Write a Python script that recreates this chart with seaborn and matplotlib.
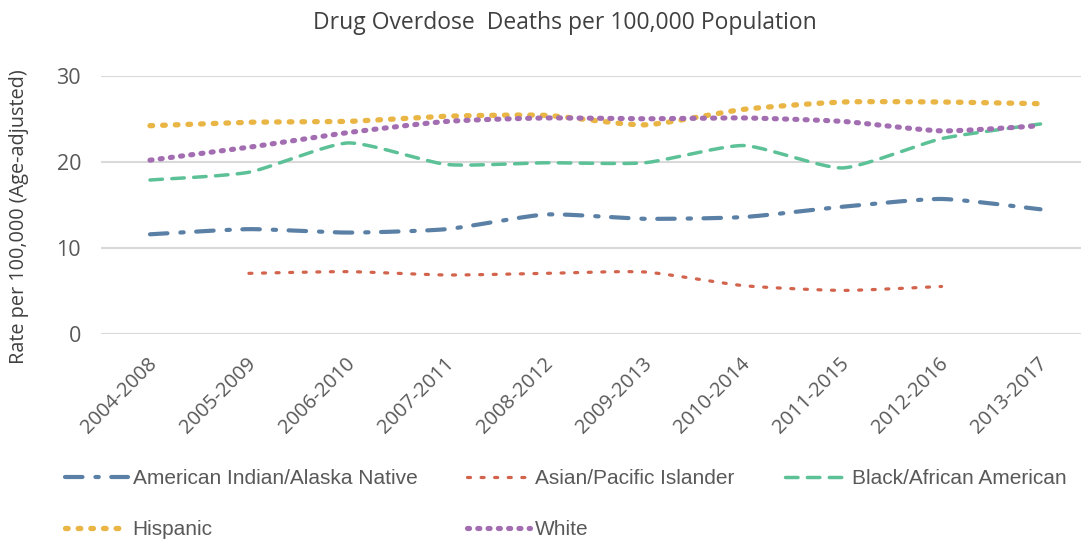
import numpy as np
import pandas as pd
import matplotlib
matplotlib.use("Agg")
import matplotlib.pyplot as plt
import matplotlib.transforms as mtransforms
import seaborn as sns

periods = ["2004-2008", "2005-2009", "2006-2010", "2007-2011", "2008-2012",
           "2009-2013", "2010-2014", "2011-2015", "2012-2016", "2013-2017"]
aian = [11.6, 12.2, 11.8, 12.2, 13.9, 13.4, 13.6, 14.8, 15.7, 14.5]
api = [np.nan, 7.07, 7.27, 6.88, 7.07, 7.23, 5.64, 5.09, 5.55, np.nan]
black = [17.9, 18.8, 22.2, 19.7, 19.9, 19.9, 21.9, 19.3, 22.7, 24.4]
hispanic = [24.2, 24.6, 24.7, 25.3, 25.4, 24.3, 26.1, 26.95, 26.95, 26.75]
white = [20.2, 21.7, 23.4, 24.7, 25.1, 25.0, 25.1, 24.7, 23.6, 24.2]

series_names = ["American Indian/Alaska Native", "Asian/Pacific Islander",
                "Black/African American", "Hispanic", "White"]
series_values = [aian, api, black, hispanic, white]
colors = ["#5b80a6", "#d2634c", "#5dc197", "#e9b545", "#a36eb1"]
widths = [3.0, 2.3, 2.5, 3.8, 3.7]
dashes = [(4.2, 3.1, 0.8, 3.0), (0.95, 3.3), (3.6, 2.7), (0.5, 1.9), (0.4, 1.6)]

sns.set_theme(style="white")
plt.rcParams["font.family"] = ["Open Sans", "DejaVu Sans"]


def smooth(xs, ys, n=30, k=10.0):
    """Excel-like smoothed curve (Bezier) through the valid points."""
    xs = np.asarray(xs, float)
    ys = np.asarray(ys, float)
    m = ~np.isnan(ys)
    xs, ys = xs[m], ys[m]
    P = np.column_stack([xs, ys])
    out = []
    for i in range(len(P) - 1):
        p0 = P[i - 1] if i > 0 else P[i]
        p1, p2 = P[i], P[i + 1]
        p3 = P[i + 2] if i + 2 < len(P) else P[i + 1]
        c1 = p1 + (p2 - p0) / k
        c2 = p2 - (p3 - p1) / k
        t = np.linspace(0, 1, n, endpoint=(i == len(P) - 2))[:, None]
        b = ((1 - t) ** 3) * p1 + 3 * ((1 - t) ** 2) * t * c1 + 3 * (1 - t) * t ** 2 * c2 + t ** 3 * p2
        out.append(b)
    return np.vstack(out)


fig = plt.figure(figsize=(10.81, 5.39), dpi=100)
ax = fig.add_axes([100.5 / 1081, 204.7 / 539, 989.5 / 1081, 258.6 / 539])

idx = np.arange(len(periods))
handles = []
for name, vals, c, lw, d in zip(series_names, series_values, colors, widths, dashes):
    pts = smooth(idx, vals)
    df = pd.DataFrame({"x": pts[:, 0], "y": pts[:, 1]})
    sns.lineplot(data=df, x="x", y="y", ax=ax, sort=False, estimator=None,
                 color=c, linewidth=lw, label=name)
    line = ax.lines[-1]
    line.set_dashes(d)
    line.set_dash_capstyle("round")
    line.set_solid_capstyle("round")
    handles.append(line)

ax.set_xlim(-0.5, 9.5)
ax.set_ylim(0, 30)
ax.set_yticks([0, 10, 20, 30])
ax.set_xticks(idx)
ax.set_xticklabels(periods, rotation=45, ha="right", va="center",
                   rotation_mode="anchor", fontsize=14.5, color="#595959")
ax.tick_params(axis="x", pad=19, length=0)
offset = mtransforms.ScaledTranslation(4 / 100, 0, fig.dpi_scale_trans)
for lbl in ax.get_xticklabels():
    lbl.set_transform(lbl.get_transform() + offset)
ax.tick_params(axis="y", labelsize=15.5, labelcolor="#595959", length=0, pad=14)
ax.grid(axis="y", color="#d9d9d9", linewidth=1.5)
ax.grid(axis="x", visible=False)
for s in ax.spines.values():
    s.set_visible(False)
ax.set_xlabel("")
ax.set_ylabel("")
ax.get_legend().remove()

fig.text(19 / 1081, 1 - 217 / 539, "Rate per 100,000 (Age-adjusted)", rotation=90,
         ha="center", va="center", fontsize=14.3, color="#404040")
fig.text(565 / 1081, 1 - 23 / 539, "Drug Overdose  Deaths per 100,000 Population",
         ha="center", va="center", fontsize=16.5, color="#404040")

order = [0, 3, 1, 4, 2]
leg = fig.legend([handles[i] for i in order], [series_names[i] for i in order],
                 ncol=3, loc="upper left", bbox_to_anchor=(65 / 1081, 1 - 469 / 539),
                 frameon=False, prop={"family": "Liberation Sans", "size": 15},
                 handlelength=3.0, handletextpad=0.25, columnspacing=2.4,
                 labelspacing=1.53, borderpad=0, borderaxespad=0)
for t in leg.get_texts():
    t.set_color("#595959")

fig.savefig("out.png", dpi=100)
